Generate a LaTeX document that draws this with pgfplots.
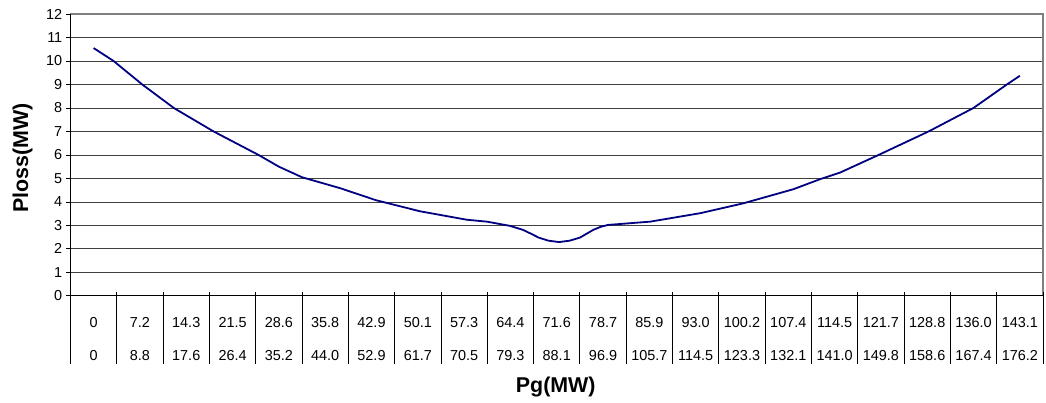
\documentclass[border=0pt]{standalone}
\usepackage{pgfplots}
\pgfplotsset{compat=1.18}
\usepackage{fontspec}
\setmainfont{Liberation Sans}
\definecolor{navy}{HTML}{000080}
\definecolor{gridc}{HTML}{404040}
\begin{document}
\begin{tikzpicture}
\begin{axis}[
  scale only axis,
  width=973bp, height=282bp,
  xmin=-0.5, xmax=20.5,
  ymin=0, ymax=12,
  ytick={0,1,...,12},
  ymajorgrids,
  grid style={draw=gridc, line width=0.8bp},
  axis line style={draw=gray, line width=1.2bp},
  tick pos=left,
  tick align=outside,
  ytick style={black, line width=0.8bp},
  major tick length=4bp,
  xtick={0,1,...,20},
  xtick style={draw=none},
  xticklabels={0,7.2,14.3,21.5,28.6,35.8,42.9,50.1,57.3,64.4,71.6,78.7,85.9,93.0,100.2,107.4,114.5,121.7,128.8,136.0,143.1},
  xticklabel style={inner sep=0pt, font=\fontsize{14.5}{17}\selectfont, anchor=base, yshift=-28bp},
  extra x ticks={0,1,...,20},
  extra x tick labels={0,8.8,17.6,26.4,35.2,44.0,52.9,61.7,70.5,79.3,88.1,96.9,105.7,114.5,123.3,132.1,141.0,149.8,158.6,167.4,176.2},
  extra x tick style={grid=none, xtick style={draw=none}, xticklabel style={yshift=-33bp}},
  yticklabel style={font=\fontsize{14.5}{17}\selectfont, inner sep=0pt, xshift=-4bp},
  /pgf/number format/assume math mode=true,
  ylabel={\textbf{Ploss(MW)}},
  ylabel style={font=\fontsize{21.5}{24}\selectfont, at={(rel axis cs:0,0.5)}, anchor=center, yshift=48bp, xshift=-3bp},
  xlabel={\textbf{Pg(MW)}},
  xlabel style={font=\fontsize{21.5}{24}\selectfont, at={(rel axis cs:0.5,0)}, anchor=center, yshift=-91bp, xshift=-1bp},
  clip=false,
]
\addplot[navy, line width=1.8bp, mark=none] coordinates {
(0,10.55) (0.43,10.0) (1.05,9.0) (1.73,8.0) (2.59,7.0) (3.56,6.0) (4.0,5.5) (4.5,5.05)
(5.33,4.58) (6.1,4.07) (7.05,3.6) (8.06,3.24) (8.49,3.16) (8.99,2.98) (9.27,2.81)
(9.45,2.64) (9.61,2.48) (9.82,2.35) (10.05,2.29) (10.28,2.35) (10.5,2.48) (10.65,2.65)
(10.79,2.81) (10.95,2.94) (11.11,3.02) (11.37,3.06) (12.02,3.16) (13.1,3.52) (14.03,3.94)
(15.11,4.54) (15.69,4.97) (16.12,5.25) (16.95,6.0) (18.03,7.0) (19.0,8.0) (19.72,9.0) (20,9.37)
};
\draw[black, line width=1bp] (rel axis cs:0,0) -- (rel axis cs:0,1);
\draw[black, line width=1bp] (rel axis cs:0,0) -- (rel axis cs:1,0);
\pgfplotsinvokeforeach{-0.5,0.5,...,20.5}{
  \draw[black, line width=0.8bp] ([yshift=4bp]axis cs:#1,0) -- ([yshift=-68bp]axis cs:#1,0);
}
\coordinate (bl) at (rel axis cs:0,0);
\coordinate (tr) at (rel axis cs:1,1);
\end{axis}
\pgfresetboundingbox
\path ([shift={(-70.5bp,-107bp)}]bl) rectangle ([shift={(3bp,14bp)}]tr);
\end{tikzpicture}
\end{document}
